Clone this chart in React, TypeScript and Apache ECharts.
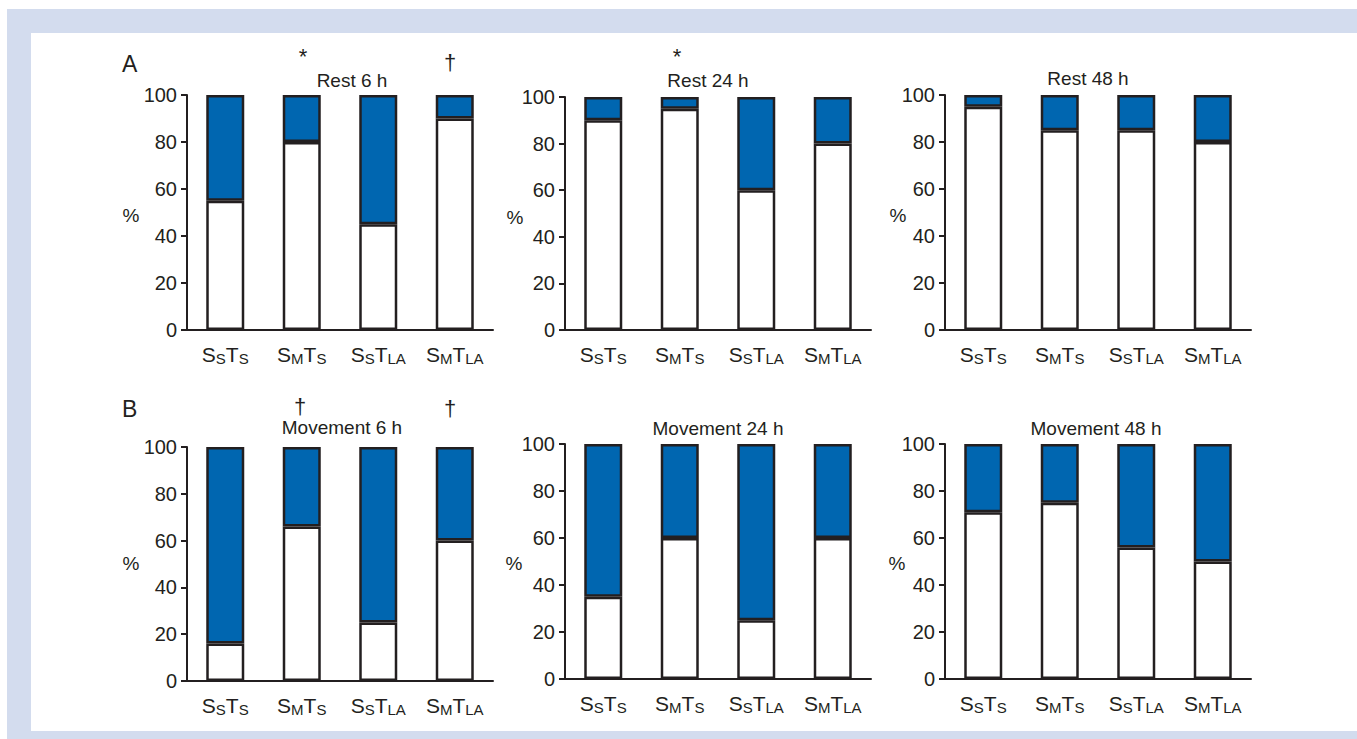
import React, { useEffect, useRef } from 'react'
import * as echarts from 'echarts'

const categories = ['S{s|S}T{s|S}', 'S{s|M}T{s|S}', 'S{s|S}T{s|LA}', 'S{s|M}T{s|LA}']
const yTicks = [0, 20, 40, 60, 80, 100]

const panelTitles = ['Rest 6 h', 'Rest 24 h', 'Rest 48 h', 'Movement 6 h', 'Movement 24 h', 'Movement 48 h']
const rest6 = [55, 80, 45, 90]
const rest24 = [90, 95, 60, 80]
const rest48 = [95, 85, 85, 80]
const move6 = [16, 66, 25, 60]
const move24 = [35, 60, 25, 60]
const move48 = [71, 75, 56, 50]
const panelValues = [rest6, rest24, rest48, move6, move24, move48]

// grid boxes: left, top, bottom(px of zero line)
const grids = [
  { left: 187, top: 95, bottom: 330 },
  { left: 565, top: 97, bottom: 330 },
  { left: 945, top: 95, bottom: 330 },
  { left: 187, top: 447, bottom: 681 },
  { left: 565, top: 444, bottom: 679 },
  { left: 945, top: 444, bottom: 679 },
]
const titlePos = [[352, 80], [708, 80], [1088, 78], [342, 427], [718, 428], [1096, 428]]
const percentPos = [[131, 215], [515, 217], [898, 215], [131, 563], [514, 563], [897, 563]]
const marks = [
  { t: '*', x: 303, y: 56 }, { t: '†', x: 450, y: 62 }, { t: '*', x: 677, y: 56 },
  { t: '†', x: 300, y: 406 }, { t: '†', x: 450, y: 408 },
]

const INK = '#231f20'
const BLUE = '#0066b0'
const FONT = 'Liberation Sans, Arial, sans-serif'

const App = () => {
  const chartRef: any = useRef()

  useEffect(() => {
    const chart = echarts.init(chartRef.current, null, { renderer: 'svg' })
    const grid: any[] = []
    const xAxis: any[] = []
    const yAxis: any[] = []
    const series: any[] = []
    const graphic: any[] = [
      { type: 'rect', shape: { x: 7, y: 9, width: 1350, height: 24 }, style: { fill: '#d3dcee' } },
      { type: 'rect', shape: { x: 7, y: 9, width: 24, height: 730 }, style: { fill: '#d3dcee' } },
      { type: 'rect', shape: { x: 7, y: 731, width: 1350, height: 8 }, style: { fill: '#d3dcee' } },
      { type: 'text', x: 122, y: 52, style: { text: 'A', fontSize: 23, fill: INK, fontFamily: FONT } },
      { type: 'text', x: 122, y: 397, style: { text: 'B', fontSize: 23, fill: INK, fontFamily: FONT } },
    ]
    grids.forEach((g, i) => {
      grid.push({ left: g.left, top: g.top, width: 306, height: g.bottom - g.top })
      xAxis.push({
        type: 'category', gridIndex: i, data: categories,
        axisLine: { lineStyle: { color: INK, width: 2 } },
        axisTick: { alignWithLabel: true, length: 6, lineStyle: { color: INK, width: 2 } },
        axisLabel: {
          interval: 0, color: INK, fontSize: 21, fontFamily: FONT, margin: 12,
          rich: { s: { fontSize: 15, verticalAlign: 'bottom', padding: [9, 0, 0, 0], color: INK, fontFamily: FONT } },
        },
      })
      yAxis.push({
        type: 'value', gridIndex: i, min: yTicks[0], max: yTicks[yTicks.length - 1], interval: 20,
        axisLine: { show: true, lineStyle: { color: INK, width: 2 } },
        axisTick: { show: true, length: 6, lineStyle: { color: INK, width: 2 } },
        axisLabel: { color: INK, fontSize: 20, fontFamily: FONT, margin: 10 },
        splitLine: { show: false },
      })
      const vals = panelValues[i]
      series.push({
        type: 'bar', xAxisIndex: i, yAxisIndex: i, stack: 's' + i, barWidth: 38,
        data: vals, itemStyle: { color: '#fff', borderColor: INK, borderWidth: 2.5 },
      })
      series.push({
        type: 'bar', xAxisIndex: i, yAxisIndex: i, stack: 's' + i, barWidth: 38,
        data: vals.map((v) => 100 - v), itemStyle: { color: BLUE, borderColor: INK, borderWidth: 2.5 },
      })
      graphic.push({
        type: 'text', x: titlePos[i][0], y: titlePos[i][1],
        style: { text: panelTitles[i], fontSize: 19, fill: INK, fontFamily: FONT, align: 'center', verticalAlign: 'middle' },
      })
      graphic.push({
        type: 'text', x: percentPos[i][0], y: percentPos[i][1],
        style: { text: '%', fontSize: 19, fill: INK, fontFamily: FONT, align: 'center', verticalAlign: 'middle' },
      })
    })
    marks.forEach((m) => {
      graphic.push({
        type: 'text', x: m.x, y: m.y,
        style: { text: m.t, fontSize: 22, fill: INK, fontFamily: FONT, align: 'center', verticalAlign: 'middle' },
      })
    })
    chart.setOption({ animation: false, backgroundColor: '#fff', grid, xAxis, yAxis, series, graphic })
    return () => {
      chart.dispose()
    }
  }, [])

  return <div style={{ position: 'fixed', left: 0, top: 0, width: 1357, height: 739 }} ref={chartRef}></div>
}
export default App
